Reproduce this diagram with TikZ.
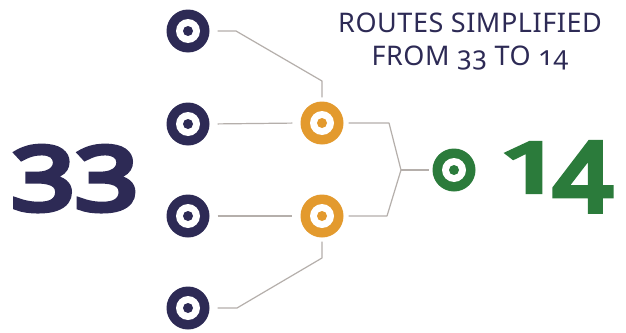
\documentclass[tikz,border=0pt]{standalone}
\usepackage{fontspec}
\setmainfont{Noto Sans}[Numbers=OldStyle]
\newfontfamily\bignum{Noto Sans}[Numbers=Lining, FakeBold=6]
\newfontfamily\titlefont{Noto Sans}[Numbers=OldStyle, LetterSpace=2]
\definecolor{navy}{HTML}{2D2A55}
\definecolor{orng}{HTML}{E39A2E}
\definecolor{grn}{HTML}{2B7B3B}
\definecolor{linegray}{HTML}{B5AFAB}
\begin{document}
\begin{tikzpicture}[x=1pt,y=-1pt,
  ring/.style={circle, fill=#1, minimum size=43pt, inner sep=0pt,
    path picture={\fill[white] (path picture bounding box.center) circle (12pt);
                  \fill[#1] (path picture bounding box.center) circle (5pt);}},
  conn/.style={draw=linegray, line width=1.2pt, line join=round},
  bigtxt/.style={font=\bignum\fontsize{88}{88}\selectfont, transform shape, inner sep=0pt},
  title/.style={anchor=base, text=navy, font=\titlefont\fontsize{27}{27}\selectfont, inner sep=0pt}]
\useasboundingbox[fill=white] (0,0) rectangle (626,332);
\node[ring=navy] (p1) at (188,31) {};
\node[ring=navy] (p2) at (188,124) {};
\node[ring=navy] (p3) at (188,216) {};
\node[ring=navy] (p4) at (188,308) {};
\node[ring=orng] (o1) at (322,123) {};
\node[ring=orng] (o2) at (322,216) {};
\node[ring=grn] (g) at (454,170) {};
\coordinate (j) at (401,170);
% connectors
\draw[conn, shorten <=8pt, shorten >=4pt] (p1.east) -- (236,31) -- (322,81) -- (o1.north);
\draw[conn, shorten <=8pt, shorten >=8pt] (p2.east) -- (o1.west);
\draw[conn, shorten <=8pt, shorten >=8pt] (p3.east) -- (o2.west);
\draw[conn, shorten <=8pt, shorten >=4pt] (p4.east) -- (237,308) -- (322,258) -- (o2.south);
\draw[conn, shorten <=5pt] (o1.east) -- (389,123) -- (j);
\draw[conn, shorten <=5pt] (o2.east) -- (387,216) -- (j);
\draw[conn, shorten >=3pt] (j) -- (g.west);
% texts
\node[bigtxt, text=navy, anchor=base, xscale=1.26] (n33) at (75,210) {33};
\node[bigtxt, text=grn, anchor=base west, xscale=1.3, yscale=0.78] (n1) at (498,192) {1};
\node[bigtxt, text=grn, anchor=base west, xscale=1.18, yscale=1.08] (n4) at (553,211) {4};
\node[title] (t1) at (470,32) {ROUTES SIMPLIFIED};
\node[title] (t2) at (470,65) {FROM 33 TO 14};
\end{tikzpicture}
\end{document}
